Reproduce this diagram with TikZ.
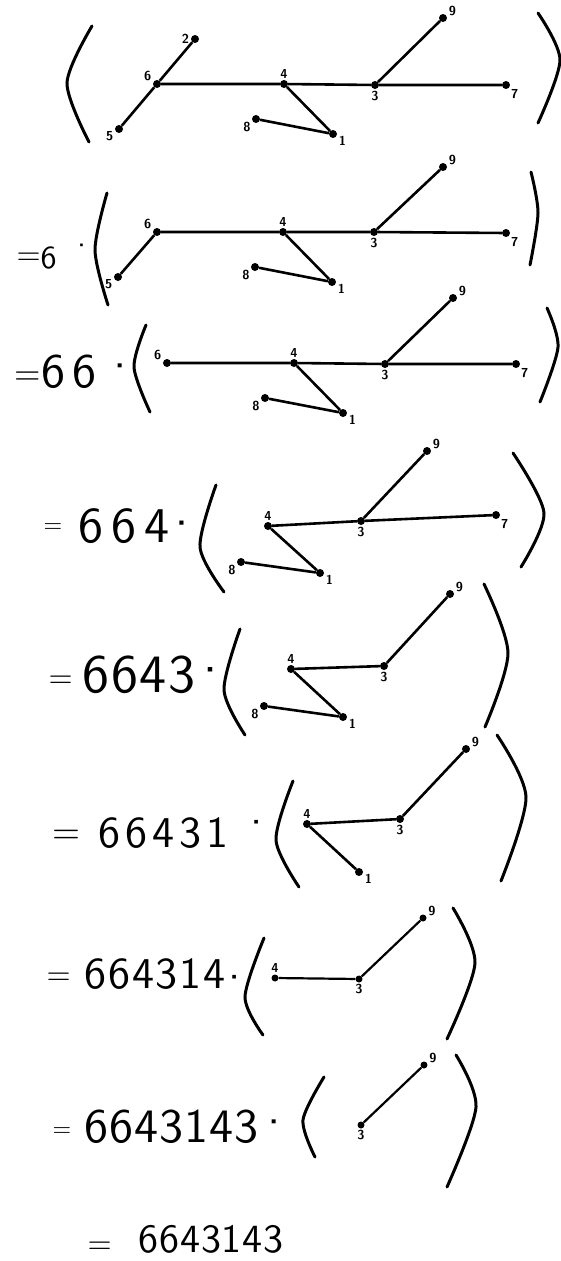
\documentclass[tikz,border=0pt]{standalone}
\usepackage{fontspec}
\newfontfamily\hand{lmsans10-regular.otf}
\newfontfamily\labfont{lmsans10-bold.otf}
\newcommand\eqsign[2]{{\fontsize{#1}{#1}\selectfont\raisebox{#2pt}{=}}}
\newcommand\mdot[1]{\raisebox{#1pt}{·}}
\newcommand\handsz[2]{\hand\addfontfeatures{LetterSpace=#2}\fontsize{#1}{#1}\selectfont}
% \pexpr{eq size}{eq raise}{offset to digits}{digits}{offset to dot}{dot raise}
\newcommand\pexpr[6]{\rlap{\eqsign{#1}{#2}}\hspace{#3pt}\rlap{#4}\hspace{#5pt}\mdot{#6}}
\tikzset{
  v/.style={circle, fill=black, inner sep=0pt, minimum size=8pt},
  lab/.style={font=\labfont\fontsize{13}{13}\selectfont, inner sep=1.5pt},
  ed/.style={line width=2.6pt},
  paren/.style={line width=3pt, line cap=round},
  expr/.style={anchor=base west, inner sep=0pt}
}
\begin{document}
\begin{tikzpicture}[x=1pt,y=-1pt]
\useasboundingbox (0,0) rectangle (561,1261);
\fill[white] (0,0) rectangle (561,1261);

% ---------- panel 1
\draw[paren] plot[smooth] coordinates {(92,26) (67,83) (89,142)};
\draw[paren] plot[smooth] coordinates {(538,13) (560,60) (538,123)};
\node[v, label={[lab]180:2}] (a2) at (195,39) {};
\node[v, label={[lab]165:6}] (a6) at (157,84) {};
\node[v, label={[lab]195:5}] (a5) at (119,129) {};
\node[v, label={[lab]90:4}] (a4) at (284,84) {};
\node[v, label={[lab]270:3}] (a3) at (375,85) {};
\node[v, label={[lab]10:9}] (a9) at (443,18) {};
\node[v, label={[lab]-35:7}] (a7) at (506,85) {};
\node[v, label={[lab]205:8}] (a8) at (256,119) {};
\node[v, label={[lab]-10:1}] (a1) at (333,134) {};
\draw[ed] (a6)--(a2) (a6)--(a5) (a6)--(a4) (a4)--(a3) (a3)--(a7) (a3)--(a9) (a4)--(a1) (a1)--(a8);

% ---------- panel 2
\node[expr, font=\handsz{32}{0}] (x2) at (16.5,268) {\pexpr{31}{3.25}{24}{6}{28.5}{12}};
\draw[paren] plot[smooth] coordinates {(107,193) (95,250) (108,305)};
\draw[paren] plot[smooth] coordinates {(531,172) (538,213) (530,265)};
\node[v, label={[lab]160:6}] (b6) at (157,232) {};
\node[v, label={[lab]195:5}] (b5) at (118,277) {};
\node[v, label={[lab]90:4}] (b4) at (283,232) {};
\node[v, label={[lab]270:3}] (b3) at (374,232) {};
\node[v, label={[lab]10:9}] (b9) at (443,167) {};
\node[v, label={[lab]-35:7}] (b7) at (506,233) {};
\node[v, label={[lab]205:8}] (b8) at (255,267) {};
\node[v, label={[lab]-10:1}] (b1) at (332,282) {};
\draw[ed] (b6)--(b5) (b6)--(b4) (b4)--(b3) (b3)--(b7) (b3)--(b9) (b4)--(b1) (b1)--(b8);

% ---------- panel 3
\node[expr, font=\handsz{48}{15}] (x3) at (14.5,387) {\pexpr{34}{2.5}{27}{66}{59.5}{5}};
\draw[paren] plot[smooth] coordinates {(146,325) (134,367) (150,412)};
\draw[paren] plot[smooth] coordinates {(547,308) (558,347) (540,402)};
\node[v, label={[lab]165:6}] (c6) at (167,363) {};
\node[v, label={[lab]90:4}] (c4) at (294,363) {};
\node[v, label={[lab]270:3}] (c3) at (385,364) {};
\node[v, label={[lab]10:9}] (c9) at (453,298) {};
\node[v, label={[lab]-35:7}] (c7) at (516,364) {};
\node[v, label={[lab]205:8}] (c8) at (265,398) {};
\node[v, label={[lab]-10:1}] (c1) at (343,413) {};
\draw[ed] (c6)--(c4) (c4)--(c3) (c3)--(c7) (c3)--(c9) (c4)--(c1) (c1)--(c8);

% ---------- panel 4
\node[expr, font=\handsz{50}{16}] (x4) at (43.5,542) {\pexpr{24}{10}{35}{664}{84}{1.5}};
\draw[paren] plot[smooth] coordinates {(216,485) (200,547) (224,592)};
\draw[paren] plot[smooth] coordinates {(513,453) (544,513) (521,567)};
\node[v, label={[lab]90:4}] (d4) at (268,526) {};
\node[v, label={[lab]270:3}] (d3) at (361,521) {};
\node[v, label={[lab]10:9}] (d9) at (427,451) {};
\node[v, label={[lab]-35:7}] (d7) at (496,515) {};
\node[v, label={[lab]205:8}] (d8) at (241,562) {};
\node[v, label={[lab]-10:1}] (d1) at (320,573) {};
\draw[ed] (d4)--(d3) (d3)--(d7) (d3)--(d9) (d4)--(d1) (d1)--(d8);

% ---------- panel 5
\node[expr, font=\handsz{54}{3}] (x5) at (48.5,692) {\pexpr{31}{4.5}{34}{6643}{107}{3.5}};
\draw[paren] plot[smooth] coordinates {(240,629) (224,690) (245,735)};
\draw[paren] plot[smooth] coordinates {(484,584) (508,653) (485,727)};
\node[v, label={[lab]90:4}] (e4) at (291,669) {};
\node[v, label={[lab]270:3}] (e3) at (384,666) {};
\node[v, label={[lab]10:9}] (e9) at (450,594) {};
\node[v, label={[lab]205:8}] (e8) at (264,706) {};
\node[v, label={[lab]-10:1}] (e1) at (343,717) {};
\draw[ed] (e4)--(e3) (e3)--(e9) (e4)--(e1) (e1)--(e8);

% ---------- panel 6
\node[expr, font=\handsz{44}{11}] (x6) at (52.5,847) {\pexpr{36}{3.75}{46}{66431}{140.5}{10}};
\draw[paren] plot[smooth] coordinates {(293,781) (276,840) (299,887)};
\draw[paren] plot[smooth] coordinates {(497,735) (526,797) (501,881)};
\node[v, label={[lab]90:4}] (f4) at (307,824) {};
\node[v, label={[lab]270:3}] (f3) at (400,819) {};
\node[v, label={[lab]10:9}] (f9) at (466,749) {};
\node[v, label={[lab]-10:1}] (f1) at (359,872) {};
\draw[ed] (f4)--(f3) (f3)--(f9) (f4)--(f1);

% ---------- panel 7
\node[expr, font=\handsz{44}{4}] (x7) at (46.5,988) {\pexpr{31}{3.25}{38}{664314}{132.5}{-4}};
\draw[paren] plot[smooth] coordinates {(264,938) (245,997) (263,1035)};
\draw[paren] plot[smooth] coordinates {(453,908) (475,963) (447,1039)};
\node[v, minimum size=7pt, label={[lab]90:4}] (g4) at (275,978) {};
\node[v, minimum size=7pt, label={[lab]270:3}] (g3) at (359,979) {};
\node[v, minimum size=7pt, label={[lab]10:9}] (g9) at (423,918) {};
\draw[ed, line width=2.2pt] (g4)--(g3) (g3)--(g9);

% ---------- panel 8
\node[expr, font=\handsz{48}{2}] (x8) at (52.5,1142) {\pexpr{24}{6}{32}{6643143}{170.5}{4}};
\draw[paren] plot[smooth] coordinates {(324,1077) (303,1120) (315,1157)};
\draw[paren] plot[smooth] coordinates {(456,1055) (476,1107) (447,1187)};
\node[v, minimum size=7pt, label={[lab]270:3}] (h3) at (361,1125) {};
\node[v, minimum size=7pt, label={[lab]10:9}] (h9) at (424,1065) {};
\draw[ed, line width=2.2pt] (h3)--(h9);

% ---------- final
\node[expr, font=\handsz{40}{2}] (xf) at (87.5,1252) {\rlap{\eqsign{31}{-1.75}}\hspace{51pt}6643143};
\end{tikzpicture}
\end{document}
